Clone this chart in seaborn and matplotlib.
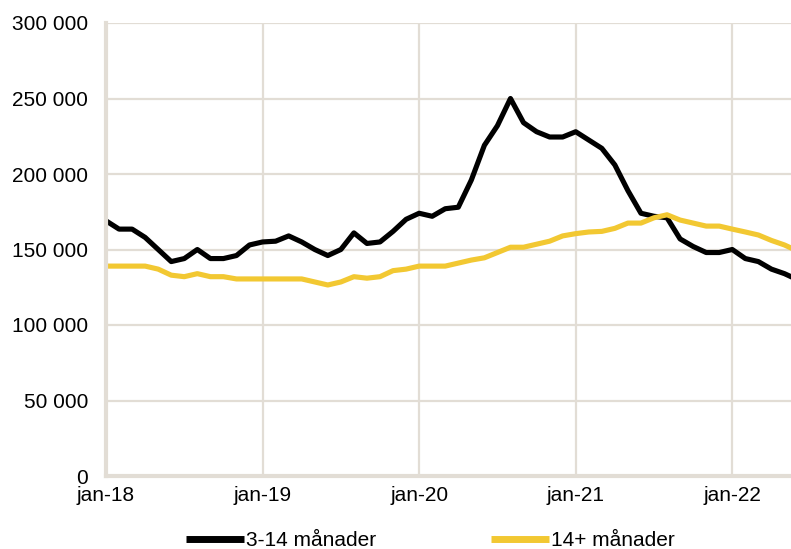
import matplotlib
matplotlib.use("Agg")
import matplotlib.pyplot as plt
import seaborn as sns
import pandas as pd
import numpy as np

# Monthly values from jan-18 onwards
short_term = [169, 163.5, 163.5, 158, 150, 142, 144, 150, 144, 144, 146, 153,
              155, 155.5, 159, 155, 150, 146, 150, 161, 154, 155, 162, 170,
              174, 172, 177, 178, 196, 219, 232, 250, 234, 228, 224.5, 224.5,
              228, 222.5, 217, 206, 189, 174, 172, 171, 157, 152, 148, 148,
              150, 144, 142, 137, 134, 130]
long_term = [139, 139, 139, 139, 137, 133, 132, 134, 132, 132, 130.5, 130.5,
             130.5, 130.5, 130.5, 130.5, 128.5, 126.5, 128.5, 132, 131, 132, 136, 137,
             139, 139, 139, 141, 143, 144.5, 148, 151.5, 151.5, 153.5, 155.5, 159,
             160.5, 161.6, 162, 164, 167.5, 167.5, 171, 173, 169.5, 167.5, 165.5, 165.5,
             163.5, 161.6, 159.6, 156, 153, 149]
series_names = ["3-14 månader", "14+ månader"]
tick_labels = ["jan-18", "jan-19", "jan-20", "jan-21", "jan-22"]
colors = ["#000000", "#F2C832"]

n = len(short_term)
df = pd.DataFrame({
    "month": list(range(n)) * 2,
    "value": [v * 1000 for v in short_term] + [v * 1000 for v in long_term],
    "series": [series_names[0]] * n + [series_names[1]] * n,
})

sns.set_theme(style="white")
plt.rcParams["font.family"] = ["Liberation Sans", "DejaVu Sans"]
plt.rcParams["text.color"] = "#000000"

fig = plt.figure(figsize=(7.91, 5.49), dpi=100)
ax = fig.add_axes([106 / 791, (549 - 476) / 549, (791 - 106) / 791, (476 - 23) / 549])

sns.lineplot(data=df, x="month", y="value", hue="series", palette=colors,
             linewidth=3.7, ax=ax, legend=False)

grid_c = "#E2DDD5"
ax.set_xlim(0, 52.5)
ax.set_ylim(0, 300000)
ax.set_xticks([0, 12, 24, 36, 48])
ax.set_xticklabels(tick_labels)
yt = np.arange(0, 300001, 50000)
ax.set_yticks(yt)
ax.set_yticklabels([f"{int(v):,}".replace(",", " ") for v in yt])
ax.grid(True, color=grid_c, linewidth=1.6)
ax.set_axisbelow(True)
for s in ["top", "right"]:
    ax.spines[s].set_visible(False)
for s in ["left", "bottom"]:
    ax.spines[s].set_color(grid_c)
    ax.spines[s].set_linewidth(3)
ax.tick_params(axis="both", length=0, labelsize=15, colors="#000000")
ax.tick_params(axis="y", pad=13)
ax.tick_params(axis="x", pad=7)
ax.set_xlabel("")
ax.set_ylabel("")

from matplotlib.lines import Line2D
handles = [Line2D([0], [0], color=c, linewidth=5, solid_capstyle="butt") for c in colors]
leg = fig.legend(handles, series_names, loc="center", bbox_to_anchor=(0.544, 1 - 541 / 549),
                 ncol=2, frameon=False, fontsize=15, handlelength=2.8,
                 handletextpad=0.1, columnspacing=5.5)
for t in leg.get_texts():
    t.set_color("#000000")

fig.savefig("out.png", dpi=100)
